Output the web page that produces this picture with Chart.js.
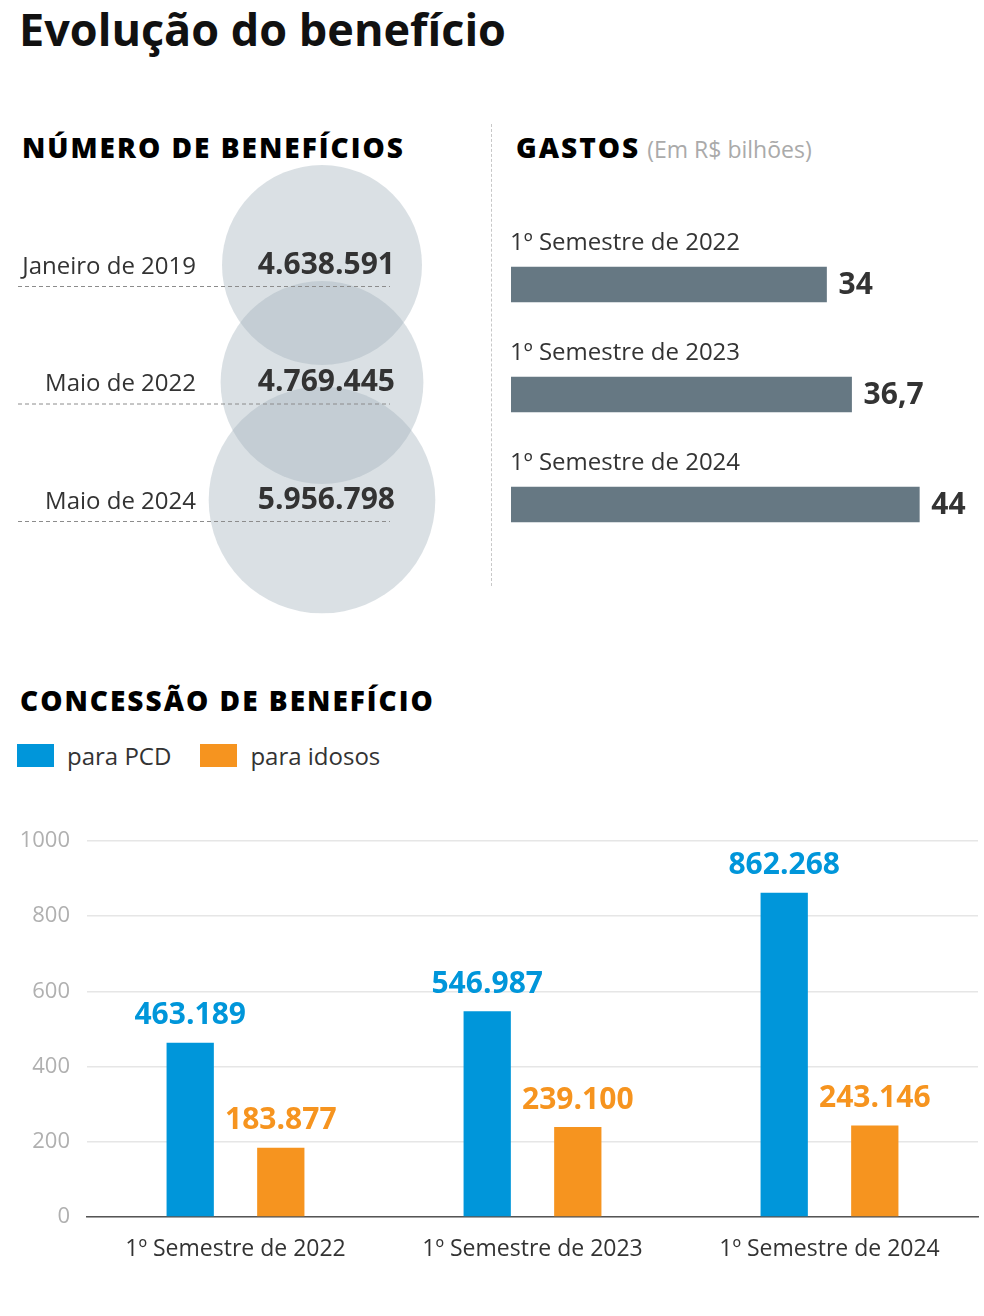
<!DOCTYPE html>
<html lang="pt-BR">
<head>
<meta charset="utf-8">
<title>Evolução do benefício</title>
<script src="https://cdn.jsdelivr.net/npm/chart.js@4.4.1/dist/chart.umd.min.js"></script>
<style>
  body { margin: 0; background: #fff; font-family: "Open Sans", "Noto Sans", sans-serif; color: #333; }
  #pagina { position: relative; width: 984px; height: 1316px; overflow: hidden; }
  h1 { position: absolute; left: 19px; top: -2px; margin: 0; font-size: 45px; font-weight: 700; color: #111; line-height: 62px; white-space: nowrap; }
  .secao { position: absolute; margin: 0; font-size: 28px; font-weight: 800; letter-spacing: 2px; color: #000; line-height: 30px; white-space: nowrap; }
  .secao small { font-size: 23px; font-weight: 400; letter-spacing: 0; color: #aaa; margin-left: 7px; }
  .divisor { position: absolute; left: 491px; top: 124px; height: 462px; border-left: 1px dashed #c8c8c8; }
  .legenda { position: absolute; left: 17px; top: 739px; display: flex; align-items: center; font-size: 24px; color: #333; }
  .legenda span.caixa { display: inline-block; width: 37px; height: 23px; margin-right: 13px; }
  .legenda span.item { display: flex; align-items: center; margin-right: 29px; }
  canvas { position: absolute; }
</style>
</head>
<body>
<div id="pagina">
  <h1>Evolução do benefício</h1>

  <div class="secao" style="left:22px; top:132px;">NÚMERO DE BENEFÍCIOS</div>
  <div class="divisor"></div>
  <div class="secao" style="left:516px; top:132px;">GASTOS<small>(Em R$ bilhões)</small></div>

  <canvas id="beneficios" width="490" height="480" style="left:0; top:150px;"></canvas>
  <canvas id="gastos" width="484" height="370" style="left:500px; top:200px;"></canvas>

  <div class="secao" style="left:20px; top:685px;">CONCESSÃO DE BENEFÍCIO</div>
  <div class="legenda" id="legenda"></div>

  <canvas id="concessao" width="984" height="480" style="left:0; top:800px;"></canvas>
</div>

<script>
// ---- dados ----
// número de benefícios
const periodos = ['Janeiro de 2019', 'Maio de 2022', 'Maio de 2024'];
const beneficios = [4638591, 4769445, 5956798];

// gastos (R$ bilhões)
const semestres = ['1º Semestre de 2022', '1º Semestre de 2023', '1º Semestre de 2024'];
const gastos = [34, 36.7, 44];

// concessão de benefício
const concessaoSemestres = ['1º Semestre de 2022', '1º Semestre de 2023', '1º Semestre de 2024'];
const paraPCD = [463189, 546987, 862268];
const paraIdosos = [183877, 239100, 243146];
const ticksConcessao = [0, 200, 400, 600, 800, 1000]; // em milhares

const AZUL = '#0096da';
const LARANJA = '#f6941f';
const CINZA_BARRA = '#667883';
const TEXTO = '#333';
const FONTE = '"Open Sans", "Noto Sans", sans-serif';

Chart.defaults.font.family = FONTE;

// ---- legenda (html) ----
const legenda = document.getElementById('legenda');
[['para PCD', AZUL], ['para idosos', LARANJA]].forEach(([txt, cor]) => {
    const item = document.createElement('span');
    item.className = 'item';
    item.innerHTML = `<span class="caixa" style="background:${cor}"></span>${txt}`;
    legenda.appendChild(item);
});

// ---- círculos: área proporcional ao número de benefícios ----
const raioBase = 100;
const menor = Math.min(...beneficios);

const rotulosCirculos = {
    id: 'rotulosCirculos',
    afterDatasetsDraw(chart) {
        const ctx = chart.ctx;
        const pontos = chart.getDatasetMeta(0).data;
        ctx.save();
        pontos.forEach((p, i) => {
            // linha tracejada
            ctx.strokeStyle = '#8c8c8c';
            ctx.lineWidth = 1;
            ctx.setLineDash([4, 3]);
            ctx.beginPath();
            ctx.moveTo(18, p.y + 21.5);
            ctx.lineTo(390, p.y + 21.5);
            ctx.stroke();
            ctx.setLineDash([]);

            ctx.fillStyle = TEXTO;
            ctx.textBaseline = 'middle';
            ctx.textAlign = 'right';
            ctx.font = '400 24px ' + FONTE;
            ctx.fillText(periodos[i], 196, p.y + 2);
            ctx.font = '700 30px ' + FONTE;
            ctx.fillText(beneficios[i].toLocaleString('pt-BR'), 395, p.y);
        });
        ctx.restore();
    }
};

new Chart(document.getElementById('beneficios'), {
    type: 'bubble',
    data: {
        datasets: [{
            data: beneficios.map((v, i) => ({ x: 0, y: i, r: raioBase * Math.sqrt(v / menor) })),
            backgroundColor: 'rgba(162, 178, 188, 0.4)',
            borderWidth: 0,
            hoverBorderWidth: 0,
            clip: false
        }]
    },
    options: {
        responsive: false,
        animation: false,
        events: [],
        layout: { autoPadding: false, padding: { left: 154, right: 0, top: 56.25, bottom: 71.25 } },
        scales: {
            x: { display: false, min: -1, max: 1 },
            y: { display: false, min: -0.5, max: 2.5, reverse: true }
        },
        plugins: { legend: { display: false }, tooltip: { enabled: false } }
    },
    plugins: [rotulosCirculos]
});

// ---- gastos: barras horizontais ----
const rotulosGastos = {
    id: 'rotulosGastos',
    afterDatasetsDraw(chart) {
        const ctx = chart.ctx;
        const barras = chart.getDatasetMeta(0).data;
        ctx.save();
        ctx.fillStyle = TEXTO;
        ctx.textBaseline = 'middle';
        barras.forEach((b, i) => {
            ctx.textAlign = 'left';
            ctx.font = '400 24px ' + FONTE;
            ctx.fillText(semestres[i], chart.chartArea.left - 1, b.y - 41);
            ctx.font = '700 30px ' + FONTE;
            ctx.fillText(gastos[i].toLocaleString('pt-BR'), b.x + 12, b.y + 1);
        });
        ctx.restore();
    }
};

new Chart(document.getElementById('gastos'), {
    type: 'bar',
    data: {
        labels: semestres,
        datasets: [{ data: gastos, backgroundColor: CINZA_BARRA, barThickness: 35 }]
    },
    options: {
        indexAxis: 'y',
        responsive: false,
        animation: false,
        events: [],
        layout: { padding: { left: 11, right: 9, top: 29.5, bottom: 10.5 } },
        scales: {
            x: { display: false, min: 0, max: 50 },
            y: { display: false }
        },
        plugins: { legend: { display: false }, tooltip: { enabled: false } }
    },
    plugins: [rotulosGastos]
});

// ---- concessão de benefício: barras agrupadas ----
const rotulosConcessao = {
    id: 'rotulosConcessao',
    afterDatasetsDraw(chart) {
        const ctx = chart.ctx;
        ctx.save();
        ctx.textAlign = 'center';
        ctx.textBaseline = 'middle';
        ctx.font = '700 30px ' + FONTE;
        chart.data.datasets.forEach((ds, d) => {
            ctx.fillStyle = ds.backgroundColor;
            chart.getDatasetMeta(d).data.forEach((b, i) => {
                ctx.fillText(ds.data[i].toLocaleString('pt-BR'), b.x, b.y - 27);
            });
        });
        ctx.restore();
    }
};

new Chart(document.getElementById('concessao'), {
    type: 'bar',
    data: {
        labels: concessaoSemestres,
        datasets: [
            { label: 'para PCD', data: paraPCD, backgroundColor: AZUL },
            { label: 'para idosos', data: paraIdosos, backgroundColor: LARANJA }
        ]
    },
    options: {
        responsive: false,
        animation: false,
        events: [],
        categoryPercentage: 0.61,
        barPercentage: 0.522,
        layout: { padding: { left: 0, right: 6, top: 41, bottom: 0 } },
        scales: {
            x: {
                grid: { display: false },
                border: { color: '#555', width: 1.5 },
                ticks: { color: TEXTO, font: { size: 23 }, padding: 11, maxRotation: 0 },
                afterFit(scale) { scale.height = 63; }
            },
            y: {
                min: 0,
                max: 1000000,
                afterBuildTicks(scale) { scale.ticks = ticksConcessao.map(v => ({ value: v * 1000 })); },
                grid: { color: '#e6e6e6', lineWidth: 1.5, drawTicks: false },
                border: { display: false },
                ticks: { color: '#b0b0b0', font: { size: 22 }, padding: 17, callback: v => v / 1000 },
                afterFit(scale) { scale.width = 87; }
            }
        },
        plugins: { legend: { display: false }, tooltip: { enabled: false } }
    },
    plugins: [rotulosConcessao]
});
</script>
</body>
</html>
